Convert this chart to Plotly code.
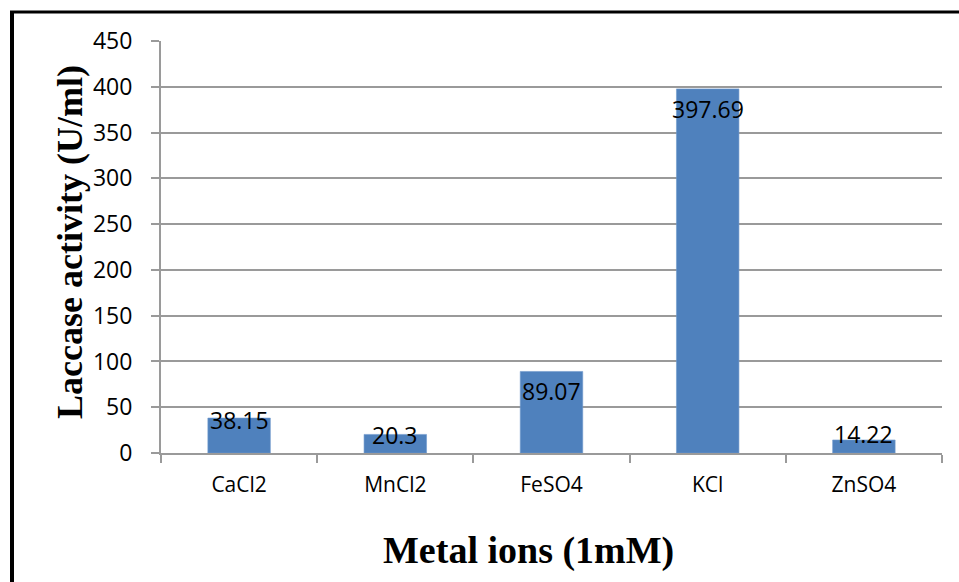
import plotly.graph_objects as go

categories = ["CaCl2", "MnCl2", "FeSO4", "KCl", "ZnSO4"]
activity = [38.15, 20.3, 89.07, 397.69, 14.22]
label_texts = ["38.15", "20.3", "89.07", "397.69", "14.22"]
y_ticks = [0, 50, 100, 150, 200, 250, 300, 350, 400, 450]

# style: vertical pixel shift of each data label relative to bar top
label_shift = [-2, -1, -20, -20, 6]

W, H = 959, 582
L, R, T, B = 161, 17, 41, 129
pw, ph = W - L - R, H - T - B

def px_x(p):
    return (p - L) / pw

def px_y(p):
    return (H - B - p) / ph

fig = go.Figure()
fig.add_trace(go.Bar(
    x=categories, y=activity, width=0.4,
    marker=dict(color="#4F81BD", line=dict(color="#6E98CC", width=0.6)),
    hoverinfo="x+y",
))

annotations = []
for c, v, t, s in zip(categories, activity, label_texts, label_shift):
    annotations.append(dict(
        x=c, y=v, text=t, showarrow=False, yshift=s,
        xanchor="center", yanchor="middle",
        font=dict(family="Open Sans", size=23, color="black"),
    ))

annotations.append(dict(
    xref="paper", yref="paper", x=px_x(70), y=px_y(242),
    text="<b>Laccase activity (U/ml)</b>", textangle=-90, showarrow=False,
    xanchor="center", yanchor="middle",
    font=dict(family="Liberation Serif", size=36, color="black"),
))
annotations.append(dict(
    xref="paper", yref="paper", x=px_x(528), y=px_y(550),
    text="<b>Metal ions (1mM)</b>", showarrow=False,
    xanchor="center", yanchor="middle",
    font=dict(family="Liberation Serif", size=38, color="black"),
))

grid = "#9A9A9A"
fig.update_layout(
    width=W, height=H,
    margin=dict(l=L, r=R, t=T, b=B),
    paper_bgcolor="white", plot_bgcolor="white",
    showlegend=False,
    annotations=annotations,
    shapes=[
        dict(type="line", xref="paper", yref="paper",
             x0=px_x(12), x1=px_x(12), y0=px_y(11), y1=px_y(600),
             line=dict(color="black", width=4)),
        dict(type="line", xref="paper", yref="paper",
             x0=px_x(10), x1=px_x(980), y0=px_y(12), y1=px_y(12),
             line=dict(color="black", width=3)),
    ],
    xaxis=dict(
        showline=True, linecolor=grid, linewidth=2,
        ticks="outside", ticklen=8, tickcolor=grid, tickwidth=2,
        tickson="boundaries", showgrid=False,
        tickfont=dict(family="Open Sans", size=21, color="black"),
        ticklabelstandoff=12,
    ),
    yaxis=dict(
        range=[0, 450], tickvals=y_ticks,
        showline=True, linecolor=grid, linewidth=2,
        ticks="outside", ticklen=8, tickcolor=grid, tickwidth=2,
        showgrid=True, gridcolor=grid, gridwidth=2,
        zeroline=False,
        tickfont=dict(family="Open Sans", size=23, color="black"),
        ticklabelstandoff=14,
    ),
)

fig.write_html(
    "out.html",
    config={"displayModeBar": False},
    post_script="document.body.style.margin='0';document.body.style.overflow='hidden';",
)
